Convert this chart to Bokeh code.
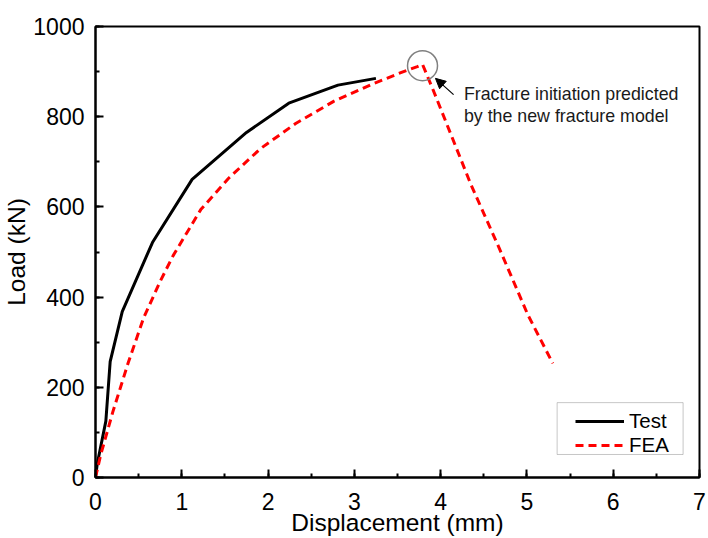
from bokeh.plotting import figure
from bokeh.models import Range1d, Legend, Label, Arrow, NormalHead, SingleIntervalTicker, BoxAnnotation
from bokeh.embed import file_html
from bokeh.resources import INLINE

# Test data (displacement mm, load kN)
test_x = [0, 0.02, 0.12, 0.17, 0.31, 0.66, 1.12, 1.75, 2.24, 2.81, 3.25]
test_y = [0, 30, 125, 257, 368, 521, 661, 765, 830, 870, 885]

# FEA data
fea_x = [0, 0.06, 0.2, 0.38, 0.56, 0.75, 0.9, 1.22, 1.54, 1.91, 2.32, 2.76,
         3.23, 3.57, 3.73, 3.79, 3.92, 4.06, 4.35, 4.68, 5.01, 5.30]
fea_y = [0, 50, 145, 255, 355, 435, 492, 594, 663, 729, 785, 834,
         874, 900, 911, 916, 856, 789, 650, 508, 361, 253]

x_title = "Displacement (mm)"
y_title = "Load (kN)"

# annotation anchor (fracture initiation point)
frac_x, frac_y = 3.79, 913
arrow_tail = (4.15, 849)
arrow_tip = (3.94, 885)
note_x = 4.27
note_lines = ["Fracture initiation predicted", "by the new fracture model"]
note_y = [851, 802]

FONT = "Liberation Sans"

p = figure(width=708, height=538, x_range=Range1d(0, 7), y_range=Range1d(0, 1000),
           output_backend="svg", toolbar_location=None,
           min_border_left=95, min_border_right=9, min_border_top=26, min_border_bottom=61)
p.xgrid.visible = False
p.ygrid.visible = False
p.outline_line_color = "black"
p.outline_line_width = 2
p.background_fill_color = "white"
p.border_fill_color = "white"

p.xaxis.ticker = SingleIntervalTicker(interval=1, num_minor_ticks=2)
p.yaxis.ticker = SingleIntervalTicker(interval=200, num_minor_ticks=2)
p.xaxis.axis_label = x_title
p.yaxis.axis_label = y_title
for ax in (p.xaxis, p.yaxis):
    ax.axis_line_width = 2
    ax.axis_line_color = "black"
    ax.major_tick_in = 8
    ax.major_tick_out = 0
    ax.minor_tick_in = 4
    ax.minor_tick_out = 0
    ax.major_tick_line_width = 2
    ax.minor_tick_line_width = 2
    ax.major_tick_line_color = "black"
    ax.minor_tick_line_color = "black"
    ax.major_label_text_font = FONT
    ax.major_label_text_font_size = "23px"
    ax.major_label_text_color = "black"
    ax.axis_label_text_font = FONT
    ax.axis_label_text_font_size = "24.5px"
    ax.axis_label_text_font_style = "normal"
    ax.axis_label_text_color = "black"
p.xaxis.major_label_standoff = 15
p.xaxis.axis_label_standoff = -4
p.yaxis.major_label_standoff = 11
p.yaxis.axis_label_standoff = 0

# legend frame
legend_box = BoxAnnotation(left=5.35, right=6.81, bottom=51, top=166,
                           fill_color="white", fill_alpha=1,
                           line_color="#444444", line_width=1, level="overlay")

r_test = p.line(test_x, test_y, line_color="black", line_width=3)
r_fea = p.line(fea_x, fea_y, line_color="#FF0000", line_width=3, line_dash="8 5")

p.scatter([frac_x], [frac_y], marker="circle", size=30, fill_color=None,
          line_color="#808080", line_width=1.5)

p.add_layout(Arrow(end=NormalHead(size=10, fill_color="black", line_color="black", line_width=1),
                   x_start=arrow_tail[0], y_start=arrow_tail[1],
                   x_end=arrow_tip[0], y_end=arrow_tip[1],
                   line_color="black", line_width=1.2))

for txt, yy in zip(note_lines, note_y):
    p.add_layout(Label(x=note_x, y=yy, text=txt, text_font=FONT, text_font_size="17.8px",
                       text_color="#1a1a1a", text_baseline="alphabetic"))

p.add_layout(legend_box)

legend = Legend(items=[("Test", [r_test]), ("FEA", [r_fea])], location=(480, 20))
legend.label_text_font = FONT
legend.label_text_font_size = "20.5px"
legend.label_text_color = "black"
legend.border_line_color = None
legend.background_fill_alpha = 0
legend.glyph_width = 49
legend.glyph_height = 20
legend.label_height = 20
legend.label_width = 40
legend.label_standoff = 5
legend.spacing = 0
legend.padding = 3
legend.margin = 0
p.add_layout(legend)

open("out.html", "w").write(file_html(p, INLINE))
